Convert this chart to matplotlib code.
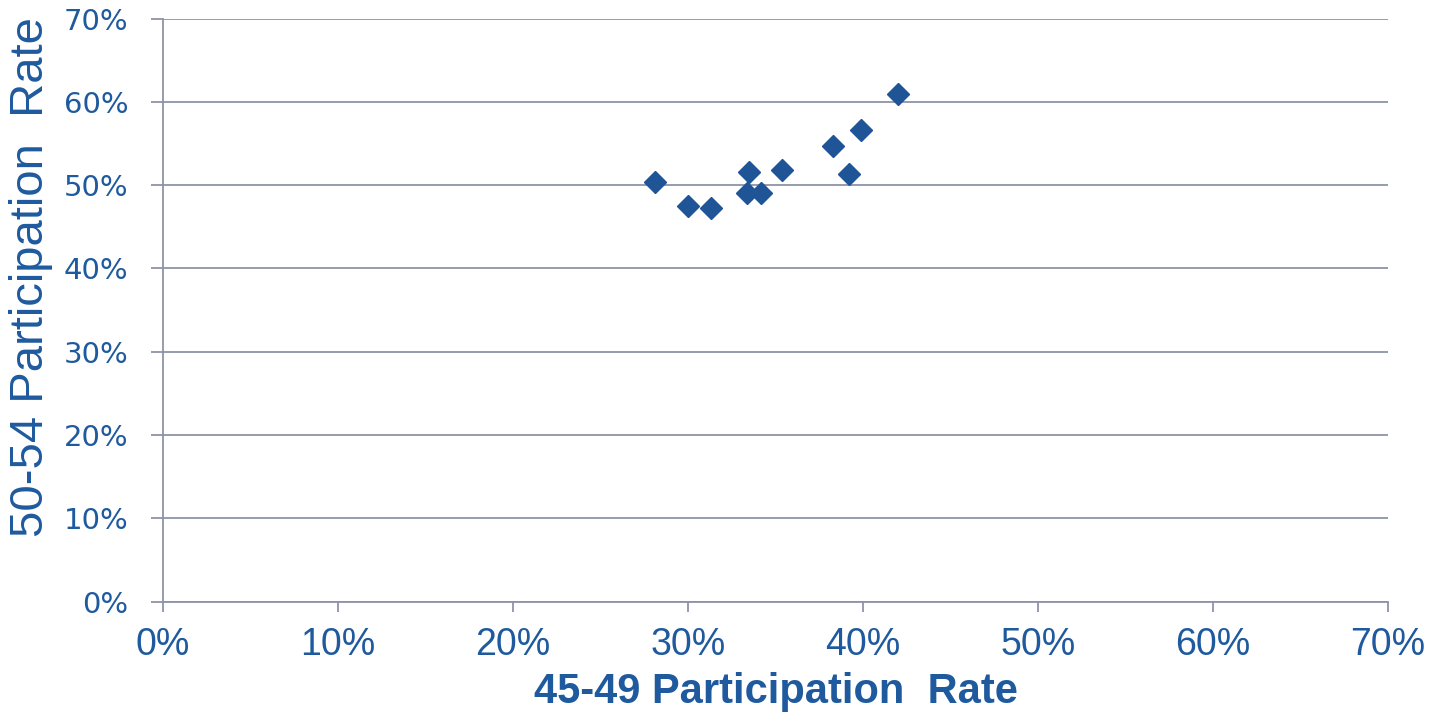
import matplotlib
matplotlib.use("Agg")
import matplotlib.pyplot as plt
from matplotlib.ticker import FuncFormatter

# participation rates (%)
rate_45_49 = [28.1, 30.0, 31.3, 33.5, 33.4, 34.2, 35.4, 38.3, 39.2, 39.9, 42.0]
rate_50_54 = [50.4, 47.5, 47.2, 51.6, 49.1, 49.1, 51.8, 54.7, 51.3, 56.6, 61.0]
ticks = [0, 10, 20, 30, 40, 50, 60, 70]

blue = '#1F5496'
text_blue = '#1F5A9E'
grid_col = '#8E93A8'

fig = plt.figure(figsize=(14.33, 7.21), dpi=100)
ax = fig.add_axes([0.1137, 0.1655, 0.8549, 0.8088])

ax.plot(rate_45_49, rate_50_54, linestyle='none', marker='D', ms=11, color=blue, zorder=3)

ax.set_xlim(0, 70)
ax.set_ylim(0, 70)
ax.set_xticks(ticks)
ax.set_yticks(ticks)
pct = FuncFormatter(lambda v, p: f'{v:.0f}%')
ax.xaxis.set_major_formatter(pct)
ax.yaxis.set_major_formatter(pct)

ax.grid(axis='y', color=grid_col, linewidth=1.3)
ax.set_axisbelow(True)
for s in ['top', 'right']:
    ax.spines[s].set_visible(False)
for s in ['left', 'bottom']:
    ax.spines[s].set_color(grid_col)
    ax.spines[s].set_linewidth(1.3)

ax.tick_params(axis='both', direction='out', width=1.3, color=grid_col)
ax.tick_params(axis='x', length=7.5, pad=11, labelcolor=text_blue)
ax.tick_params(axis='y', length=9, pad=16, labelcolor=text_blue)
for lab in ax.get_xticklabels():
    lab.set_fontfamily('Liberation Sans')
    lab.set_fontsize(27)
for lab in ax.get_yticklabels():
    lab.set_fontfamily('DejaVu Sans')
    lab.set_fontsize(21)

ax.set_xlabel('45-49 Participation  Rate', fontsize=30, fontweight='bold',
              color=text_blue, family='Liberation Sans', labelpad=6)
ax.set_ylabel('50-54 Participation  Rate', fontsize=34, color=text_blue,
              family='Liberation Sans')
ax.yaxis.set_label_coords(-0.09, 0.557)

fig.savefig('out.png', dpi=100)
